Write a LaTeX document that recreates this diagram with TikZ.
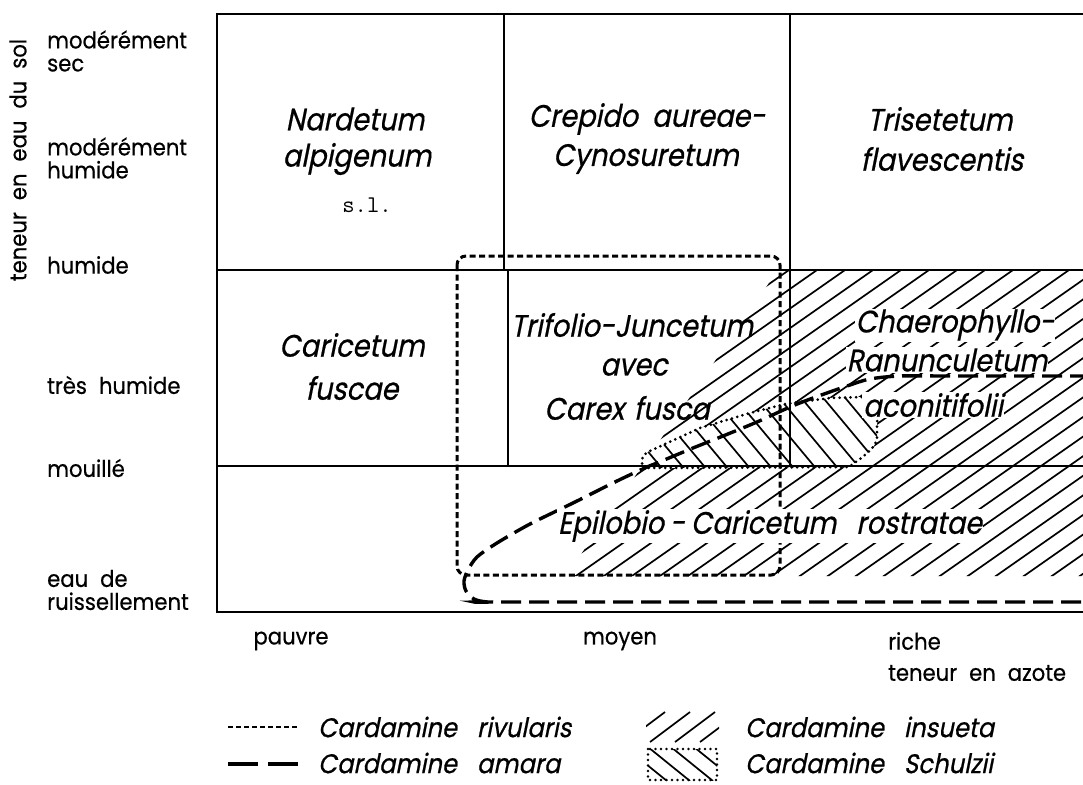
\documentclass[tikz,border=0pt]{standalone}
\usepackage{fontspec}
\setmainfont{Poppins}[FakeStretch=0.92, FakeBold=0.5]
\newfontfamily\labf[FakeSlant=0.2, FakeStretch=0.88, FakeBold=0.6]{Poppins}
\newfontfamily\legf[FakeSlant=0.2, FakeStretch=0.9, FakeBold=0.6]{Poppins}
\usetikzlibrary{calc}
\tikzset{
  gridline/.style={line width=1.8pt},
  hatchline/.style={line width=1.7pt},
  rivline/.style={line width=3.0pt, dash pattern=on 6pt off 3.5pt},
  amaline/.style={line width=3.4pt, dash pattern=on 20pt off 8pt},
  dotline/.style={line width=3pt, dash pattern=on 0pt off 5.5pt, line cap=round},
  lab/.style={font=\labf\fontsize{31}{34}\selectfont, align=center, inner sep=1pt},
  wlab/.style={lab, fill=white},
  side/.style={font=\fontsize{23}{23}\selectfont, anchor=west, align=left, inner sep=0pt},
  leg/.style={font=\legf\fontsize{27}{28}\selectfont, anchor=west, inner sep=0pt}
}
\newcommand{\schpath}{(645,468) .. controls (638,462) and (643,453) .. (652,450) -- (700,428) -- (750,413) -- (785,404) -- (830,398) -- (862,397) .. controls (876,397) and (878,410) .. (877,425) -- (877,438) .. controls (876,446) and (870,452) .. (849,467) -- cycle}
\begin{document}
\begin{tikzpicture}[x=1pt,y=-1pt]
\useasboundingbox (0,0) rectangle (1083,784);
\fill[white] (0,0) rectangle (1083,784);

% Cardamine insueta hatching
\begin{scope}
\clip (778,270) -- (1090,270) -- (1090,576) -- (566,576) -- cycle;
\foreach \k in {-14,...,16} {
  \draw[hatchline] ({845+28*\k-200},606) -- ({845+28*\k+700},-24);
}
\end{scope}

% Cardamine Schulzii
\fill[white] \schpath;
\begin{scope}
\clip \schpath;
\foreach \j in {-3,...,14} {
  \draw[hatchline] ({660+22*\j-100},{466-120}) -- ({660+22*\j+100},{466+120});
}
\end{scope}
\draw[dotline] \schpath;

% grid
\draw[gridline] (1090,14) -- (217,14) -- (217,612) -- (1090,612);
\draw[gridline] (217,270) -- (1090,270);
\draw[gridline] (217,466) -- (1090,466);
\draw[gridline] (504,14) -- (504,270);
\draw[gridline] (508,270) -- (508,466);
\draw[gridline] (790,14) -- (790,466);

% Cardamine amara
\draw[amaline] plot[smooth, tension=0.5] coordinates {(1090,376) (950,376) (900,376) (870,379) (847,386) (813,398) (790,407) (757,422) (723,436) (693,448) (657,463) (647,467) (617,481) (573,503) (530,524) (497,543) (477,557) (468,570) (464,581) (466,591) (474,599) (488,602) (520,602) (1090,602)};

% Cardamine rivularis
\draw[rivline, rounded corners=9pt] (457,256) rectangle (780,575);

% cell labels
\node[lab] (nard) at (355,119) {Nardetum};
\node[lab] (alp) at (357,159) {alpigenum};
\node[font=\ttfamily\fontsize{24}{24}\selectfont, inner sep=0pt] (sl) at (367,205) {s.l.};
\node[lab] (crep) at (647,119) {Crepido\hspace{14pt}aureae-};
\node[lab] (cyno) at (646,159) {Cynosuretum};
\node[lab] (tris) at (940,119) {Trisetetum};
\node[lab] (flav) at (942,159) {flavescentis};
\node[lab] (cari) at (352,345) {Caricetum};
\node[lab] (fusc) at (352,388) {fuscae};
\node[lab] (trif) at (632,325) {Trifolio-Juncetum};
\node[lab] (avec) at (634,367) {avec};
\node[lab] (carex) at (627,408) {Carex\hspace{10pt}fusca};
\node[wlab] (chae) at (955,325) {Chaerophyllo-};
\node[wlab] (ranu) at (947,360) {Ranunculetum};
\node[wlab] (acon) at (933,405) {aconitifolii};
\node[wlab] (epil) at (770,526) {Epilobio\hspace{6pt}-\hspace{6pt}Caricetum\hspace{20pt}rostratae};

% side labels
\node[side] (ms) at (47,51) {modérément\\sec};
\node[side] (mh) at (47,158) {modérément\\humide};
\node[side] (hu) at (47,265) {humide};
\node[side] (th) at (47,385) {très\hspace{12pt}humide};
\node[side] (mo) at (47,468) {mouillé};
\node[side] (er) at (47,590) {eau\hspace{12pt}de\\ruissellement};
\node[font=\fontsize{23}{23}\selectfont, rotate=90, inner sep=0pt] (ysl) at (18,160) {teneur\hspace{12pt}en\hspace{12pt}eau\hspace{12pt}du\hspace{12pt}sol};

% bottom axis
\node[font=\fontsize{23}{23}\selectfont, inner sep=0pt] (pa) at (291,641) {pauvre};
\node[font=\fontsize{23}{23}\selectfont, inner sep=0pt] (my) at (620,641) {moyen};
\node[side] (ri) at (888,641) {riche};
\node[side] (az) at (888,673) {teneur\hspace{12pt}en\hspace{12pt}azote};

% legend
\coordinate (l1a) at (228,727); \coordinate (l1b) at (298,727);
\draw[rivline, line width=2.6pt, dash pattern=on 5pt off 3pt] (l1a) -- (l1b);
\node[leg] (lriv) at (318,727) {Cardamine\hspace{20pt}rivularis};
\coordinate (l2a) at (228,764); \coordinate (l2b) at (298,764);
\draw[line width=3.2pt, dash pattern=on 30pt off 10pt] (l2a) -- (l2b);
\node[leg] (lama) at (318,763) {Cardamine\hspace{20pt}amara};
\begin{scope}
\clip (646,709) rectangle (719,743);
\foreach \x in {625,650,675,700} { \draw[hatchline] (\x,742) -- ({\x+40},712); }
\end{scope}
\node[leg] (lins) at (745,727) {Cardamine\hspace{20pt}insueta};
\begin{scope}
\clip (648,749) rectangle (717,780);
\foreach \x in {625,648,671,694} { \draw[hatchline] (\x,747) -- ({\x+42},781); }
\end{scope}
\draw[dotline, line width=2.6pt] (648,749) rectangle (717,780);
\node[leg] (lsch) at (745,763) {Cardamine\hspace{20pt}Schulzii};
\end{tikzpicture}
\end{document}
